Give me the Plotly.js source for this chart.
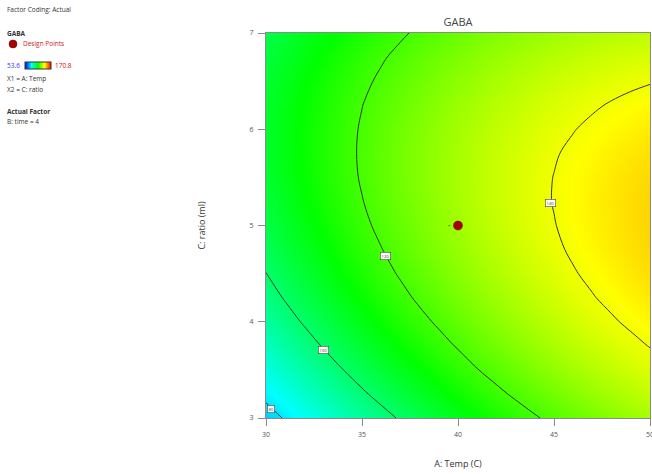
<!DOCTYPE html>
<html><head><meta charset="utf-8">
<script src="https://cdn.plot.ly/plotly-3.0.1.min.js"></script>
<style>html,body{margin:0;padding:0;background:#fff;}#chart{width:652px;height:474px;}</style>
</head><body><div id="chart"></div>
<script>
// A: Temp (C) grid values
const tempValues = [30,31,32,33,34,35,36,37,38,39,40,41,42,43,44,45,46,47,48,49,50];
// C: ratio (ml) grid values
const ratioValues = [3,3.25,3.5,3.75,4,4.25,4.5,4.75,5,5.25,5.5,5.75,6,6.25,6.5,6.75,7];
// Predicted GABA (rows = ratio, columns = temp), time = 4
const gabaRow300 = [76.9,80.6,84.2,87.7,91.1,94.4,97.6,100.7,103.7,106.6,109.3,112.0,114.6,117.0,119.4,121.6,123.8,125.8,127.7,129.6,131.3];
const gabaRow325 = [81.8,85.4,89.0,92.4,95.7,99.0,102.1,105.1,108.0,110.8,113.5,116.1,118.6,121.0,123.2,125.4,127.5,129.4,131.3,133.0,134.7];
const gabaRow350 = [86.3,89.8,93.3,96.7,99.9,103.1,106.1,109.1,111.9,114.6,117.2,119.8,122.2,124.5,126.7,128.8,130.8,132.6,134.4,136.1,137.7];
const gabaRow375 = [90.3,93.8,97.2,100.5,103.7,106.8,109.7,112.6,115.3,118.0,120.5,123.0,125.3,127.5,129.7,131.7,133.6,135.4,137.1,138.7,140.2];
const gabaRow400 = [94.0,97.4,100.7,103.9,107.0,110.0,112.9,115.7,118.4,120.9,123.4,125.8,128.0,130.2,132.2,134.2,136.0,137.8,139.4,140.9,142.3];
const gabaRow425 = [97.2,100.5,103.7,106.9,109.9,112.8,115.6,118.4,121.0,123.5,125.9,128.1,130.3,132.4,134.4,136.2,138.0,139.7,141.2,142.7,144.0];
const gabaRow450 = [99.9,103.2,106.4,109.4,112.4,115.2,118.0,120.6,123.1,125.5,127.9,130.1,132.2,134.2,136.1,137.9,139.6,141.1,142.6,144.0,145.3];
const gabaRow475 = [102.3,105.5,108.6,111.5,114.4,117.2,119.8,122.4,124.9,127.2,129.4,131.6,133.6,135.5,137.4,139.1,140.7,142.2,143.6,144.9,146.1];
const gabaRow500 = [104.2,107.3,110.3,113.2,116.0,118.7,121.3,123.8,126.2,128.4,130.6,132.7,134.6,136.5,138.2,139.8,141.4,142.8,144.1,145.3,146.5];
const gabaRow525 = [105.7,108.7,111.6,114.5,117.2,119.8,122.3,124.7,127.0,129.2,131.3,133.3,135.2,136.9,138.6,140.2,141.6,143.0,144.2,145.4,146.4];
const gabaRow550 = [106.7,109.7,112.5,115.3,117.9,120.5,122.9,125.2,127.5,129.6,131.6,133.5,135.3,137.0,138.6,140.1,141.5,142.7,143.9,145.0,145.9];
const gabaRow575 = [107.3,110.2,113.0,115.7,118.2,120.7,123.1,125.3,127.5,129.5,131.4,133.3,135.0,136.6,138.1,139.6,140.9,142.1,143.2,144.2,145.0];
const gabaRow600 = [107.5,110.3,113.0,115.6,118.1,120.5,122.8,125.0,127.0,129.0,130.9,132.6,134.3,135.8,137.3,138.6,139.8,141.0,142.0,142.9,143.7];
const gabaRow625 = [107.2,110.0,112.6,115.1,117.6,119.9,122.1,124.2,126.2,128.1,129.9,131.5,133.1,134.6,136.0,137.2,138.4,139.4,140.4,141.2,141.9];
const gabaRow650 = [106.6,109.2,111.8,114.2,116.6,118.8,120.9,123.0,124.9,126.7,128.4,130.0,131.5,132.9,134.2,135.4,136.5,137.4,138.3,139.1,139.7];
const gabaRow675 = [105.4,108.0,110.5,112.9,115.1,117.3,119.4,121.3,123.2,124.9,126.5,128.1,129.5,130.8,132.0,133.1,134.1,135.0,135.8,136.5,137.1];
const gabaRow700 = [103.9,106.4,108.8,111.1,113.3,115.4,117.4,119.2,121.0,122.7,124.2,125.7,127.0,128.3,129.4,130.5,131.4,132.2,132.9,133.5,134.0];
const gabaGrid = [gabaRow300,gabaRow325,gabaRow350,gabaRow375,gabaRow400,gabaRow425,gabaRow450,gabaRow475,gabaRow500,gabaRow525,gabaRow550,gabaRow575,gabaRow600,gabaRow625,gabaRow650,gabaRow675,gabaRow700];
const gabaMin = 53.6, gabaMax = 170.8;
const contourLevels = [80,100,120,140];
const designTemp = [40], designRatio = [5];
const xTicks = [30,35,40,45,50];
const yTicks = [3,4,5,6,7];

const W = 652, H = 474;
const px = v => v / W, py = v => 1 - v / H;
const FONT = '"Open Sans", "Noto Sans", sans-serif';
const scale = [[0,'#0000ff'],[0.25,'#00ffff'],[0.5,'#00ff00'],[0.75,'#ffff00'],[1,'#ff0000']];

const traces = [
  {type:'heatmap', x:tempValues, y:ratioValues, z:gabaGrid, zmin:gabaMin, zmax:gabaMax,
   colorscale:scale, zsmooth:'best', hoverinfo:'skip',
   colorbar:{orientation:'h', x:px(25), xanchor:'left', y:py(65.5), yanchor:'middle',
     lenmode:'pixels', len:26, thickness:7, xpad:0, ypad:0, showticklabels:false, ticks:'',
     outlinewidth:1, outlinecolor:'#333'}},
  {type:'contour', x:tempValues, y:ratioValues, z:gabaGrid, showscale:false, hoverinfo:'skip',
   contours:{coloring:'none', start:contourLevels[0], end:contourLevels[contourLevels.length-1], size:20},
   line:{color:'#2e3a2a', width:1}},
  {type:'scatter', mode:'markers', x:designTemp, y:designRatio, hoverinfo:'skip',
   marker:{color:'#a80000', size:9, line:{color:'#600000', width:0.5}}}
];

const labelStyle = {showarrow:false, font:{family:FONT, size:4, color:'#333'}, bgcolor:'#ffffff',
  bordercolor:'#444', borderwidth:0.6, borderpad:1, xref:'x', yref:'y'};
const contourLabels = [
  {x:30.25, y:3.09, text:String(contourLevels[0])},
  {x:33.0, y:3.71, text:String(contourLevels[1])},
  {x:36.2, y:4.68, text:String(contourLevels[2])},
  {x:44.84, y:5.23, text:String(contourLevels[3])}
].map(a => Object.assign({}, labelStyle, a));

const txt = (x, y, text, opts) => Object.assign({xref:'paper', yref:'paper', x:px(x), y:py(y),
  xanchor:'left', yanchor:'middle', showarrow:false, text:text,
  font:{family:FONT, size:6.5, color:'#333'}}, opts || {});

const annotations = contourLabels.concat([
  {xref:'x', yref:'y', x:designTemp[0], y:designRatio[0], xshift:-9, text:'•', showarrow:false,
   font:{family:FONT, size:6, color:'#3c6a28'}},
  txt(5, 10, 'Factor Coding: Actual'),
  txt(5, 33, '<b>GABA</b>'),
  txt(21, 44, 'Design Points', {font:{family:FONT, size:6.5, color:'#cc2020'}}),
  txt(5, 66, '53.6', {font:{family:FONT, size:6.5, color:'#3030ff'}}),
  txt(53, 66, '170.8', {font:{family:FONT, size:6.5, color:'#cc1010'}}),
  txt(5, 78, 'X1 = A: Temp'),
  txt(5, 89, 'X2 = C: ratio'),
  txt(5, 111, '<b>Actual Factor</b>'),
  txt(5, 122, 'B: time = 4')
]);

const shapes = [
  {type:'circle', xref:'paper', yref:'paper', x0:px(9), x1:px(17), y0:py(48), y1:py(40),
   fillcolor:'#a80000', line:{color:'#700000', width:0.5}}
];

const axisCommon = {showline:true, linecolor:'#8a8a8a', linewidth:1, mirror:true, showgrid:false,
  zeroline:false, ticks:'outside', ticklen:7, tickcolor:'#8a8a8a', tickwidth:1,
  tickfont:{family:FONT, size:7, color:'#555'}, automargin:false};

const layout = {
  width:W, height:H, margin:{l:0, r:0, t:0, b:0}, paper_bgcolor:'#fff', plot_bgcolor:'#fff',
  showlegend:false,
  title:{text:'GABA', x:px(458), xref:'paper', xanchor:'center', y:py(22), yref:'paper', yanchor:'middle',
    font:{family:FONT, size:11, color:'#444'}},
  xaxis:Object.assign({}, axisCommon, {domain:[px(266), px(650)], range:[30,50], tickvals:xTicks,
    ticklabelstandoff:3, ticklabeloverflow:'allow',
    title:{text:'A: Temp (C)', standoff:22, font:{family:FONT, size:9, color:'#333'}}}),
  yaxis:Object.assign({}, axisCommon, {domain:[1-418/H, 1-33/H], range:[3,7], tickvals:yTicks,
    ticklabelstandoff:3,
    title:{text:'C: ratio (ml)', standoff:42, font:{family:FONT, size:9, color:'#333'}}}),
  annotations:annotations,
  shapes:shapes
};

Plotly.newPlot('chart', traces, layout, {staticPlot:true, displayModeBar:false});
</script></body></html>
